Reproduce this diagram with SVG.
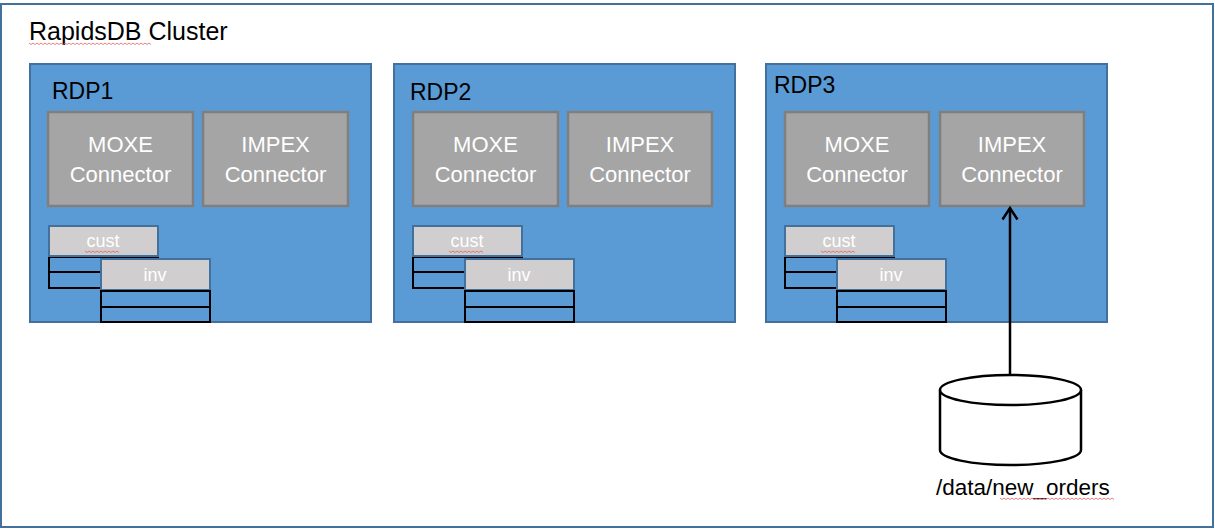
<svg xmlns="http://www.w3.org/2000/svg" width="1215" height="529" viewBox="0 0 1215 529">
<defs>
<style>
.frame{fill:#fff;stroke:#41719C;stroke-width:2}
.rdp{fill:#5B9BD5;stroke:#41719C;stroke-width:2}
.conn{fill:#A5A5A5;stroke:#7F7F7F;stroke-width:2.5}
.tbl{fill:#D0CECE;stroke:#41719C;stroke-width:2}
.row{fill:#5B9BD5;stroke:#000;stroke-width:2}
.t{font-family:"Liberation Sans",Arial,sans-serif}
.lbl{font-size:23px;fill:#000}
.ct{font-size:22px;fill:#fff;text-anchor:middle}
.tt{font-size:18px;fill:#fff;text-anchor:middle}
.sq{fill:none;stroke:#E06060;stroke-width:0.8}
</style>
<marker id="arr" markerWidth="16" markerHeight="18" refX="13" refY="9" orient="auto" markerUnits="userSpaceOnUse" viewBox="0 0 16 18">
<path d="M1.5,1.5 L13,9 L1.5,16.5" fill="none" stroke="#000" stroke-width="2.5"/>
</marker>
<g id="tables">
<rect class="row" x="49" y="257" width="109" height="15"/>
<rect class="row" x="49" y="272" width="109" height="16"/>
<rect class="tbl" x="49" y="226" width="109" height="30"/>
<text class="t tt" x="103" y="247">cust</text>
<path class="sq" d="M85,251 l2,1.5 l2,-1.5 l2,1.5 l2,-1.5 l2,1.5 l2,-1.5 l2,1.5 l2,-1.5 l2,1.5 l2,-1.5 l2,1.5 l2,-1.5 l2,1.5 l2,-1.5 l2,1.5 l2,-1.5 l2,1.5"/>
<rect class="tbl" x="101" y="259" width="109" height="31"/>
<text class="t tt" x="155" y="281">inv</text>
<rect class="row" x="101" y="291" width="109" height="16"/>
<rect class="row" x="101" y="307" width="109" height="15"/>
</g>
</defs>
<rect class="frame" x="1" y="4" width="1212" height="523"/>
<text class="t" x="29" y="40" font-size="25" fill="#000">RapidsDB Cluster</text>
<path class="sq" d="M29,43 l2,1.5 l2,-1.5 l2,1.5 l2,-1.5 l2,1.5 l2,-1.5 l2,1.5 l2,-1.5 l2,1.5 l2,-1.5 l2,1.5 l2,-1.5 l2,1.5 l2,-1.5 l2,1.5 l2,-1.5 l2,1.5 l2,-1.5 l2,1.5 l2,-1.5 l2,1.5 l2,-1.5 l2,1.5 l2,-1.5 l2,1.5 l2,-1.5 l2,1.5 l2,-1.5 l2,1.5 l2,-1.5 l2,1.5 l2,-1.5 l2,1.5 l2,-1.5 l2,1.5 l2,-1.5 l2,1.5 l2,-1.5 l2,1.5 l2,-1.5 l2,1.5 l2,-1.5 l2,1.5 l2,-1.5 l2,1.5 l2,-1.5 l2,1.5 l2,-1.5 l2,1.5 l2,-1.5 l2,1.5 l2,-1.5 l2,1.5 l2,-1.5 l2,1.5 l2,-1.5 l2,1.5 l2,-1.5 l2,1.5 l2,-1.5 l2,1.5"/>

<g id="rdp1">
<rect class="rdp" x="30" y="64" width="341" height="258"/>
<text class="t lbl" x="52" y="99">RDP1</text>
<g id="rdp1-moxe"><rect class="conn" x="48" y="112" width="145" height="94"/>
<text class="t ct" x="120.5" y="152">MOXE</text><text class="t ct" x="120.5" y="182">Connector</text></g>
<g id="rdp1-impex"><rect class="conn" x="203" y="112" width="145" height="94"/>
<text class="t ct" x="275.5" y="152">IMPEX</text><text class="t ct" x="275.5" y="182">Connector</text></g>
<use href="#tables"/>
</g>

<g id="rdp2">
<rect class="rdp" x="394" y="64" width="341" height="258"/>
<text class="t lbl" x="410" y="100">RDP2</text>
<g id="rdp2-moxe"><rect class="conn" x="413" y="112" width="145" height="94"/>
<text class="t ct" x="485.5" y="152">MOXE</text><text class="t ct" x="485.5" y="182">Connector</text></g>
<g id="rdp2-impex"><rect class="conn" x="568" y="112" width="144" height="94"/>
<text class="t ct" x="640" y="152">IMPEX</text><text class="t ct" x="640" y="182">Connector</text></g>
<use href="#tables" x="364"/>
</g>

<g id="rdp3">
<rect class="rdp" x="766" y="64" width="341" height="258"/>
<text class="t lbl" x="774" y="93">RDP3</text>
<g id="rdp3-moxe"><rect class="conn" x="785" y="112" width="144" height="94"/>
<text class="t ct" x="857" y="152">MOXE</text><text class="t ct" x="857" y="182">Connector</text></g>
<g id="rdp3-impex"><rect class="conn" x="940" y="112" width="144" height="94"/>
<text class="t ct" x="1012" y="152">IMPEX</text><text class="t ct" x="1012" y="182">Connector</text></g>
<use href="#tables" x="736"/>
</g>

<g id="storage">
<path d="M940,390 L940,450 A70.5,15 0 0 0 1081,450 L1081,390" fill="#fff" stroke="#000" stroke-width="2.5"/>
<ellipse cx="1010.5" cy="390" rx="70.5" ry="15" fill="#fff" stroke="#000" stroke-width="2.5"/>
<text class="t" x="936" y="495" font-size="22.5" fill="#000">/data/new_orders</text>
<path class="sq" d="M1000,498 l2,1.5 l2,-1.5 l2,1.5 l2,-1.5 l2,1.5 l2,-1.5 l2,1.5 l2,-1.5 l2,1.5 l2,-1.5 l2,1.5 l2,-1.5 l2,1.5 l2,-1.5 l2,1.5 l2,-1.5 l2,1.5 l2,-1.5 l2,1.5 l2,-1.5 l2,1.5 l2,-1.5 l2,1.5 l2,-1.5 l2,1.5 l2,-1.5 l2,1.5 l2,-1.5 l2,1.5 l2,-1.5 l2,1.5 l2,-1.5 l2,1.5 l2,-1.5 l2,1.5 l2,-1.5 l2,1.5 l2,-1.5 l2,1.5 l2,-1.5 l2,1.5 l2,-1.5 l2,1.5 l2,-1.5 l2,1.5 l2,-1.5 l2,1.5 l2,-1.5 l2,1.5 l2,-1.5 l2,1.5 l2,-1.5 l2,1.5 l2,-1.5 l2,1.5 l2,-1.5 l2,1.5"/>
</g>

<g id="connectors">
<line x1="1010" y1="375" x2="1010" y2="208" stroke="#000" stroke-width="2.5" marker-end="url(#arr)"/>
</g>
</svg>
